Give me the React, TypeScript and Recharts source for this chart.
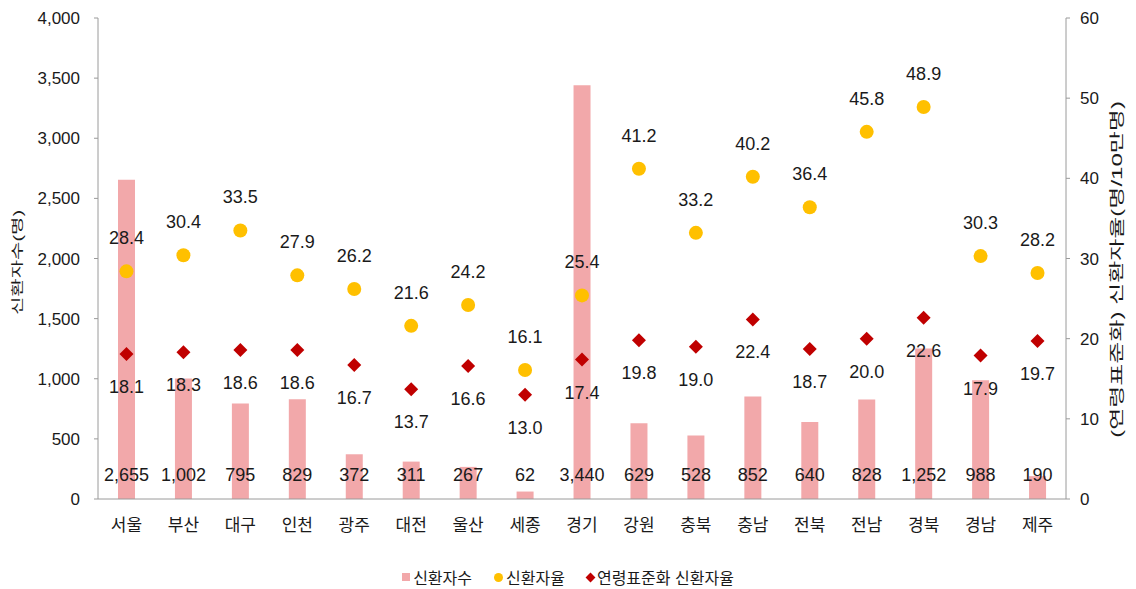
import { ComposedChart, Bar, Line, XAxis, YAxis, LabelList } from 'recharts'

const regions = ['서울', '부산', '대구', '인천', '광주', '대전', '울산', '세종', '경기', '강원', '충북', '충남', '전북', '전남', '경북', '경남', '제주']
const newPatients = [2655, 1002, 795, 829, 372, 311, 267, 62, 3440, 629, 528, 852, 640, 828, 1252, 988, 190]
const newRate = [28.4, 30.4, 33.5, 27.9, 26.2, 21.6, 24.2, 16.1, 25.4, 41.2, 33.2, 40.2, 36.4, 45.8, 48.9, 30.3, 28.2]
const stdRate = [18.1, 18.3, 18.6, 18.6, 16.7, 13.7, 16.6, 13.0, 17.4, 19.8, 19.0, 22.4, 18.7, 20.0, 22.6, 17.9, 19.7]
const leftTicks = [0, 500, 1000, 1500, 2000, 2500, 3000, 3500, 4000]
const rightTicks = [0, 10, 20, 30, 40, 50, 60]

const data = regions.map((r, i) => ({ region: r, count: newPatients[i], rate: newRate[i], std: stdRate[i] }))

const FONT = '"Liberation Sans", "Noto Sans CJK KR", sans-serif'
const TXT = '#1a1a1a'
const BAR = '#f2a8aa'
const GOLD = '#ffc000'
const RED = '#c00000'

function CircleDot(props: any) {
  const { cx, cy } = props
  if (cx == null || cy == null) return null
  return <circle cx={cx} cy={cy} r={7} fill={GOLD} />
}

function DiamondDot(props: any) {
  const { cx, cy } = props
  if (cx == null || cy == null) return null
  const s = 7
  return <path d={`M${cx},${cy - s}L${cx + s},${cy}L${cx},${cy + s}L${cx - s},${cy}Z`} fill={RED} />
}

function BarValue(props: any) {
  const { x, y, width, height, value } = props
  return (
    <text x={x + width / 2} y={y + height - 24} textAnchor="middle" dominantBaseline="central" fontSize={18} fill={TXT} fontFamily={FONT}>
      {Number(value).toLocaleString('en-US')}
    </text>
  )
}

function AboveValue(props: any) {
  const { x, y, value } = props
  return (
    <text x={x} y={y - 33} textAnchor="middle" dominantBaseline="central" fontSize={18} fill={TXT} fontFamily={FONT}>
      {Number(value).toFixed(1)}
    </text>
  )
}

function BelowValue(props: any) {
  const { x, y, value } = props
  return (
    <text x={x} y={y + 33} textAnchor="middle" dominantBaseline="central" fontSize={18} fill={TXT} fontFamily={FONT}>
      {Number(value).toFixed(1)}
    </text>
  )
}

// rotated axis titles, squeezed across the glyphs like the source
function axisTitle(text: string, cx: number, fontSize: number, dy: number) {
  return (props: any) => {
    const vb = props.viewBox || {}
    const cy = (vb.y ?? 18) + (vb.height ?? 481) / 2 + dy
    return (
      <text
        transform={`translate(${cx},${cy}) rotate(-90) scale(1,0.62)`}
        textAnchor="middle"
        dominantBaseline="central"
        fontSize={fontSize}
        fill={TXT}
        fontFamily={FONT}
      >
        {text}
      </text>
    )
  }
}

function Legend() {
  return (
    <div style={{ position: 'absolute', top: 565, left: 0, width: 1136, display: 'flex', justifyContent: 'center', gap: 22, fontFamily: FONT, fontSize: 16, color: TXT, paddingRight: 20 }}>
      <span style={{ display: 'flex', alignItems: 'center', gap: 3 }}>
        <span style={{ width: 8, height: 8, background: BAR, display: 'inline-block' }} />신환자수
      </span>
      <span style={{ display: 'flex', alignItems: 'center', gap: 3 }}>
        <span style={{ width: 9, height: 9, borderRadius: '50%', background: GOLD, display: 'inline-block' }} />신환자율
      </span>
      <span style={{ display: 'flex', alignItems: 'center', gap: 3 }}>
        <span style={{ width: 7, height: 7, background: RED, transform: 'rotate(45deg)', display: 'inline-block' }} />연령표준화 신환자율
      </span>
    </div>
  )
}

export default function App() {
  return (
    <div style={{ position: 'relative', width: 1136, height: 589, background: '#fff' }}>
      <style>{'body{margin:0}'}</style>
      <ComposedChart width={1136} height={589} data={data} margin={{ top: 18, right: 20, bottom: 50, left: 20 }}>
        <XAxis
          dataKey="region"
          tick={{ fill: TXT, fontSize: 17, fontFamily: FONT }}
          tickLine={false}
          axisLine={{ stroke: '#9a9a9a' }}
          tickMargin={14}
          height={40}
        />
        <YAxis
          yAxisId="left"
          domain={[0, 4000]}
          ticks={leftTicks}
          tickFormatter={(v: number) => v.toLocaleString('en-US')}
          tick={{ fill: TXT, fontSize: 17, fontFamily: FONT }}
          axisLine={{ stroke: '#9a9a9a' }}
          tickLine={{ stroke: '#9a9a9a' }}
          tickSize={4}
          tickMargin={14}
          width={78}
          label={axisTitle('신환자수(명)', 18, 20, 4)}
        />
        <YAxis
          yAxisId="right"
          orientation="right"
          domain={[0, 60]}
          ticks={rightTicks}
          tick={{ fill: TXT, fontSize: 17, fontFamily: FONT }}
          axisLine={{ stroke: '#9a9a9a' }}
          tickLine={{ stroke: '#9a9a9a' }}
          tickSize={4}
          tickMargin={10}
          width={50}
          label={axisTitle('(연령표준화) 신환자율(명/10만명)', 1117, 24, 11)}
        />
        <Bar yAxisId="left" dataKey="count" fill={BAR} barSize={17} isAnimationActive={false}>
          <LabelList dataKey="count" content={<BarValue />} />
        </Bar>
        <Line yAxisId="right" dataKey="rate" stroke="none" dot={<CircleDot />} activeDot={false} isAnimationActive={false}>
          <LabelList dataKey="rate" content={<AboveValue />} />
        </Line>
        <Line yAxisId="right" dataKey="std" stroke="none" dot={<DiamondDot />} activeDot={false} isAnimationActive={false}>
          <LabelList dataKey="std" content={<BelowValue />} />
        </Line>
      </ComposedChart>
      <Legend />
    </div>
  )
}
